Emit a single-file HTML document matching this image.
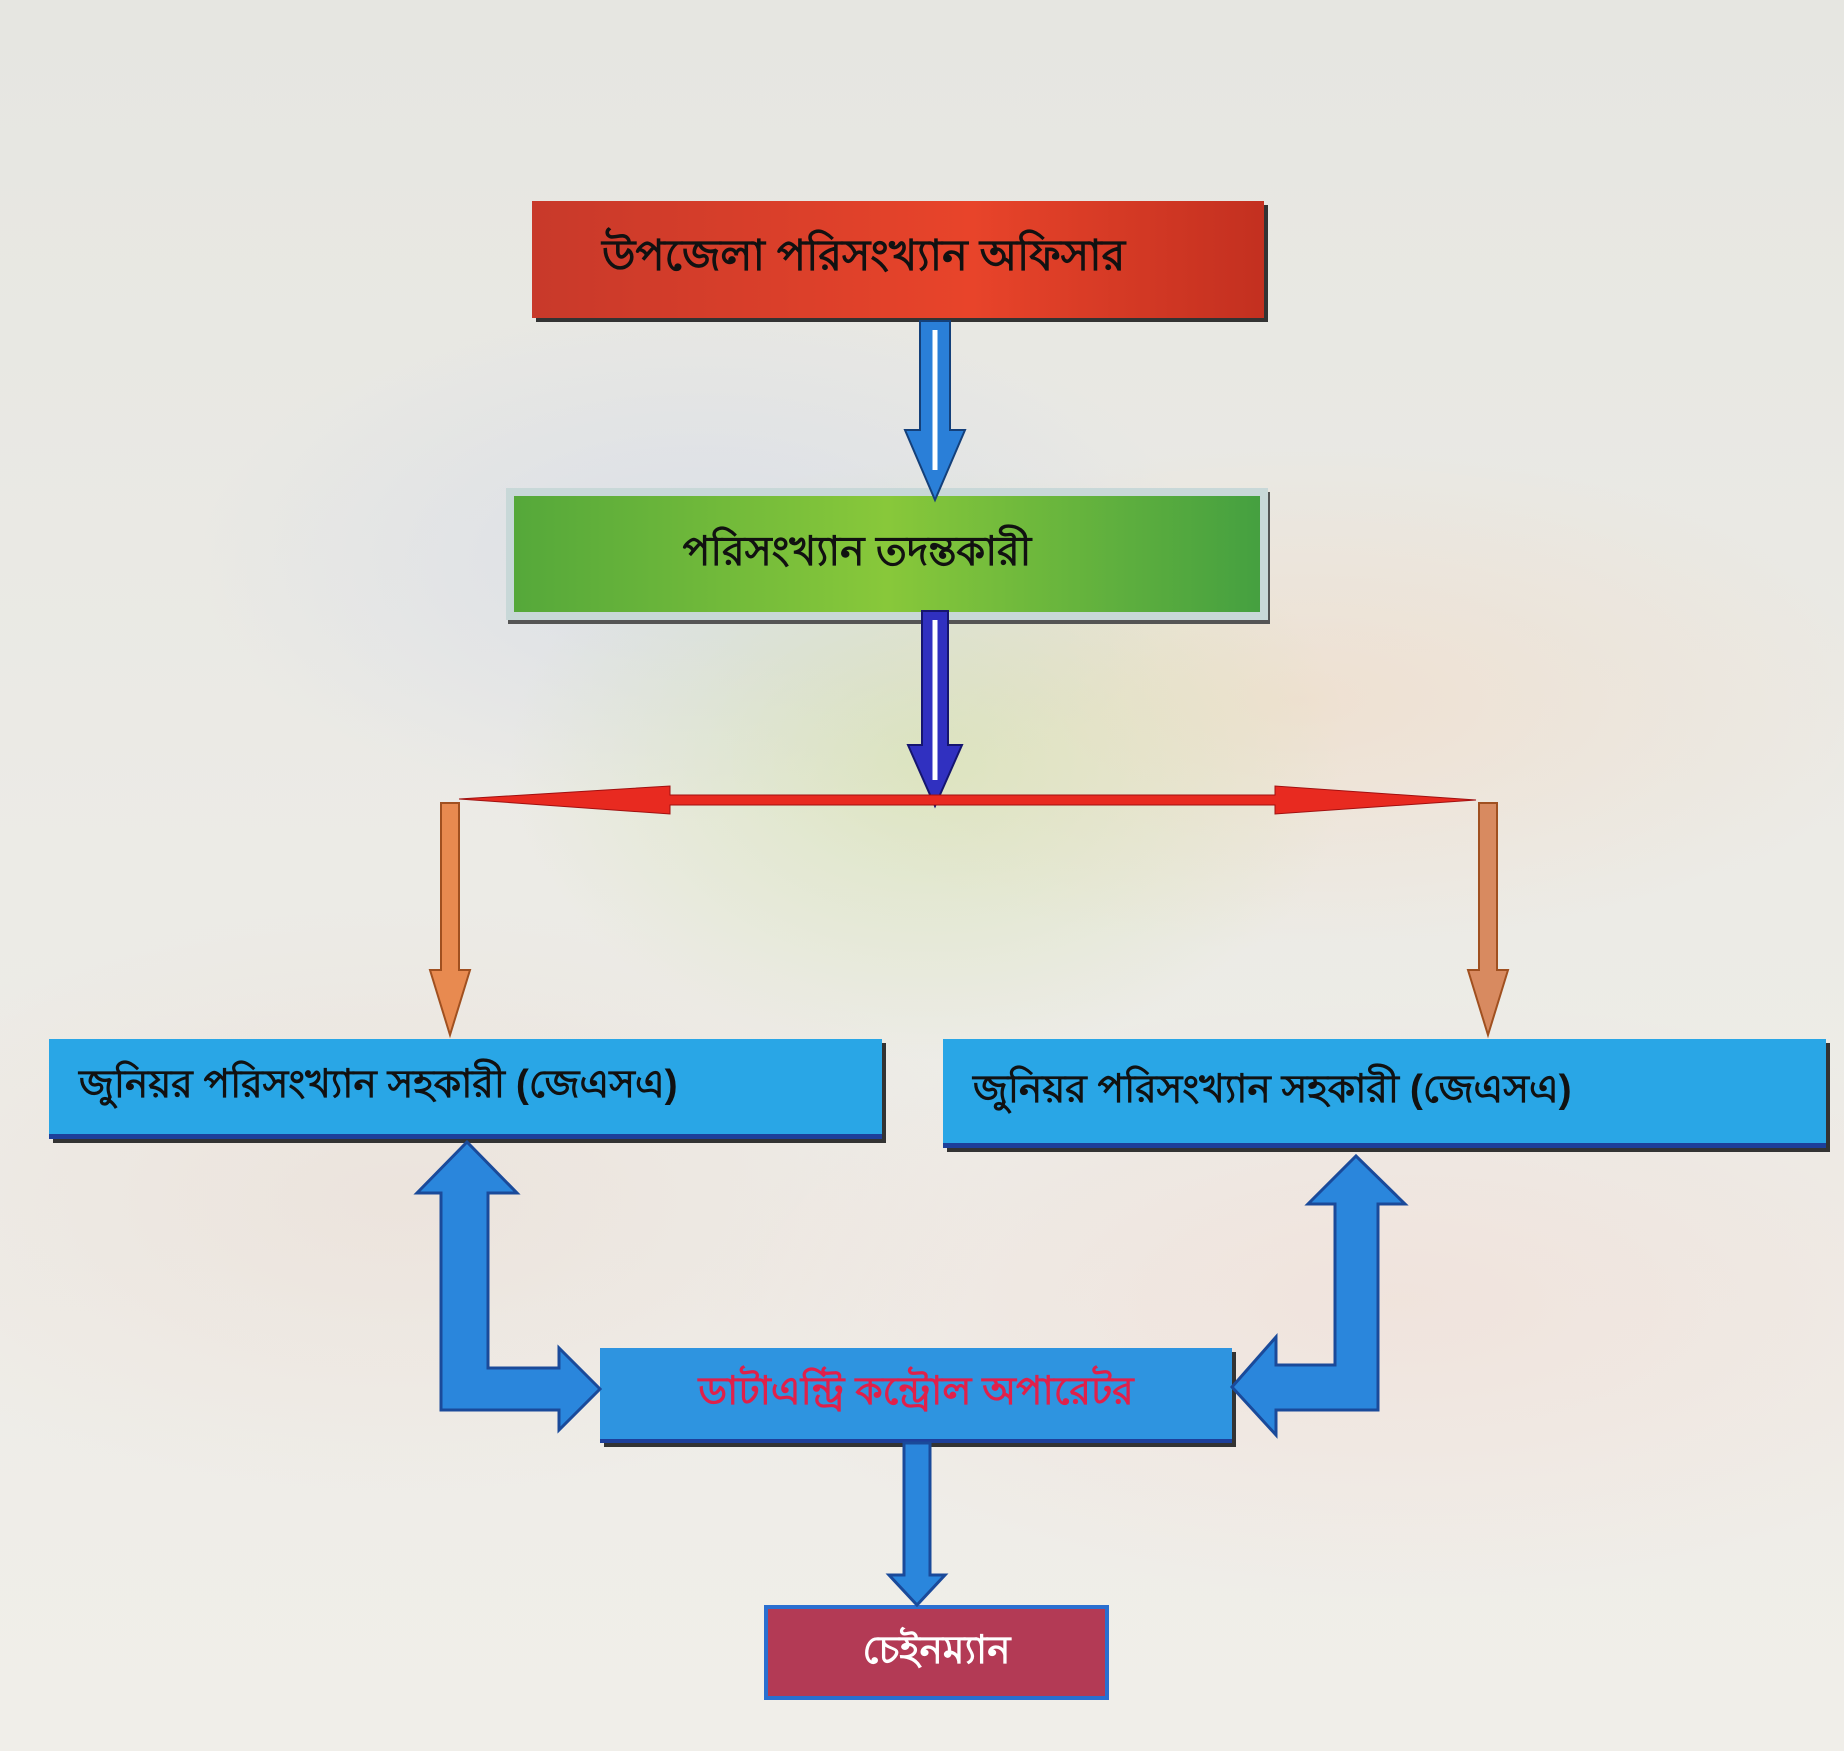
<!DOCTYPE html>
<html><head><meta charset="utf-8"><style>
html,body{margin:0;padding:0}
body{width:1844px;height:1751px;position:relative;overflow:hidden;font-family:"Liberation Sans","Noto Sans CJK SC",sans-serif;
background:
radial-gradient(ellipse 420px 300px at 930px 760px, rgba(205,225,160,.5), transparent),
radial-gradient(ellipse 500px 260px at 700px 560px, rgba(200,210,235,.45), transparent),
radial-gradient(ellipse 600px 250px at 1300px 700px, rgba(245,210,180,.4), transparent),
radial-gradient(ellipse 600px 300px at 400px 1200px, rgba(235,215,205,.4), transparent),
radial-gradient(ellipse 700px 300px at 1400px 1300px, rgba(245,210,200,.35), transparent),
linear-gradient(#e6e6e1,#ecebe6 50%,#f0eee9);}
.b{position:absolute;box-sizing:border-box;display:flex;align-items:center;font-weight:900;box-shadow:4px 4px 0 #333;}
</style></head><body>
<div class="b" style="left:532px;top:201px;width:732px;height:117px;background:linear-gradient(90deg,#c8392a,#e8442a 60%,#c33020);justify-content:flex-start;padding-left:70px;font-size:43px;color:#111;">উপজেলা পরিসংখ্যান অফিসার</div>
<div class="b" style="left:506px;top:488px;width:762px;height:132px;background:linear-gradient(90deg,#55a83a,#88c83a 50%,#45a040);border:8px solid #c8d8d8;box-shadow:2px 4px 0 #555;justify-content:center;padding-right:60px;font-size:41px;color:#111;">পরিসংখ্যান তদন্তকারী</div>
<div class="b" style="left:49px;top:1039px;width:833px;height:100px;background:#29a6e6;border-bottom:5px solid #1d3f9a;justify-content:flex-start;padding-left:30px;font-size:39px;color:#111;">জুনিয়র পরিসংখ্যান সহকারী (জেএসএ)</div>
<div class="b" style="left:943px;top:1039px;width:883px;height:109px;background:#29a6e6;border-bottom:5px solid #1d3f9a;justify-content:flex-start;padding-left:30px;font-size:39px;color:#111;">জুনিয়র পরিসংখ্যান সহকারী (জেএসএ)</div>
<div class="b" style="left:600px;top:1348px;width:632px;height:95px;background:#2e94e0;border-bottom:4px solid #1d3f9a;justify-content:center;font-size:39px;color:#e0204a;">ডাটাএন্ট্রি কন্ট্রোল অপারেটর</div>
<div class="b" style="left:764px;top:1605px;width:345px;height:95px;background:#b33a55;border:4px solid #2a6fd0;box-shadow:none;justify-content:center;font-size:39px;color:#fff;">চেইনম্যান</div>
<svg width="1844" height="1751" style="position:absolute;left:0;top:0">
<polygon points="920,321 950,321 950,430 965,430 935,500 905,430 920,430" fill="#2a7fd8" stroke="#14407a" stroke-width="2"/>
<polyline points="935,330 935,470" stroke="#fff" stroke-width="5"/>
<polygon points="922,611 948,611 948,745 962,745 935,806 908,745 922,745" fill="#3030c0" stroke="#151570" stroke-width="2"/>
<polyline points="935,620 935,780" stroke="#fff" stroke-width="5"/>
<polygon points="459,799 670,786 670,795 1275,795 1275,786 1476,800 1275,814 1275,805 670,805 670,814" fill="#e82a20" stroke="#a01010" stroke-width="1"/>
<polygon points="441,803 459,803 459,970 470,970 450,1035 430,970 441,970" fill="#e88a50" stroke="#a05020" stroke-width="2"/>
<polygon points="1479,803 1497,803 1497,970 1508,970 1488,1035 1468,970 1479,970" fill="#d88a60" stroke="#a05020" stroke-width="2"/>
<polygon points="441,1193 417,1193 467,1142 517,1193 488,1193 488,1368 559,1368 559,1348 600,1389 559,1430 559,1410 441,1410" fill="#2a86dc" stroke="#1a4a9a" stroke-width="3"/>
<polygon points="1335,1204 1308,1204 1356,1156 1405,1204 1378,1204 1378,1410 1276,1410 1276,1435 1232,1387 1276,1337 1276,1365 1335,1365" fill="#2a86dc" stroke="#1a4a9a" stroke-width="3"/>
<polygon points="904,1443 930,1443 930,1575 945,1575 917,1605 889,1575 904,1575" fill="#2a86dc" stroke="#1a4a9a" stroke-width="3"/>
</svg>
</body></html>
